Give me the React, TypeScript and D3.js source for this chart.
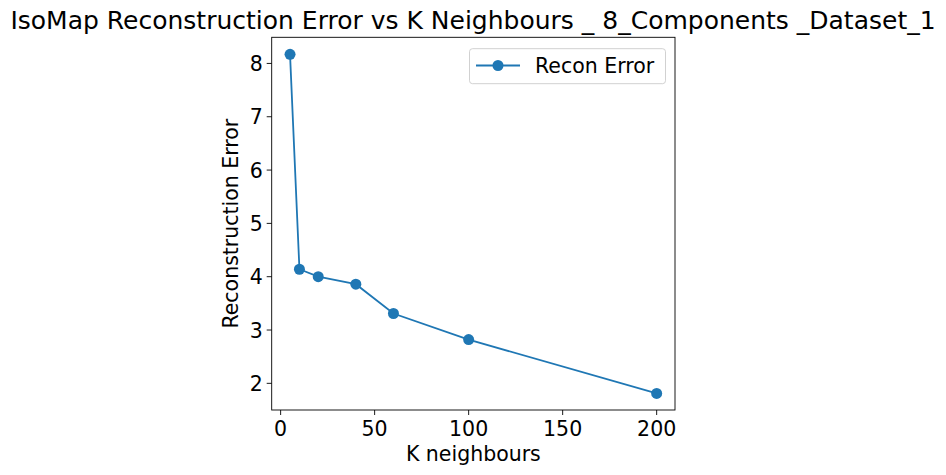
import * as d3 from 'd3';

const kValues = [5, 10, 20, 40, 60, 100, 200];
const reconError = [8.17, 4.14, 4.0, 3.86, 3.31, 2.82, 1.81];
const xTicks = [0, 50, 100, 150, 200];
const yTicks = [2, 3, 4, 5, 6, 7, 8];

const W = 946, H = 475;
const left = 271.7, right = 675, top = 37.3, bottom = 410;
const color = '#1f77b4';
const font = 'DejaVu Sans, sans-serif';

export default function App() {
  const x = d3.scaleLinear().domain([-4.75, 209.75]).range([left, right]);
  const y = d3.scaleLinear().domain([1.5, 8.49]).range([bottom, top]);
  const pts = kValues.map((k, i) => [k, reconError[i]] as [number, number]);
  const line = d3.line<[number, number]>().x(d => x(d[0])).y(d => y(d[1]));

  return (
    <svg width={W} height={H} style={{ position: 'absolute', left: 0, top: 0 }} fontFamily={font}>
      <rect width={W} height={H} fill="#fff" />
      <text x={473} y={29} textAnchor="middle" fontSize={25}>
        IsoMap Reconstruction Error vs K Neighbours _ 8_Components _Dataset_1
      </text>
      {xTicks.map(t => (
        <g key={t}>
          <line x1={x(t)} x2={x(t)} y1={bottom} y2={bottom + 5} stroke="#000" strokeWidth={0.9} />
          <text x={x(t)} y={bottom + 26} textAnchor="middle" fontSize={20.5}>{t}</text>
        </g>
      ))}
      {yTicks.map(t => (
        <g key={t}>
          <line x1={left - 5} x2={left} y1={y(t)} y2={y(t)} stroke="#000" strokeWidth={0.9} />
          <text x={left - 9} y={y(t) + 7.5} textAnchor="end" fontSize={20.5}>{t}</text>
        </g>
      ))}
      <text x={(left + right) / 2} y={461} textAnchor="middle" fontSize={20.5}>K neighbours</text>
      <text transform={`translate(238,${(top + bottom) / 2}) rotate(-90)`} textAnchor="middle" fontSize={20.5}>
        Reconstruction Error
      </text>
      <path d={line(pts) || ''} fill="none" stroke={color} strokeWidth={1.8} />
      {pts.map((p, i) => (
        <circle key={i} cx={x(p[0])} cy={y(p[1])} r={5.5} fill={color} />
      ))}
      <rect x={left} y={top} width={right - left} height={bottom - top} fill="none" stroke="#000" strokeWidth={0.9} />
      <g>
        <rect x={469.5} y={48.7} width={196} height={35} rx={3} fill="#fff" stroke="#ccc" strokeWidth={0.9} />
        <line x1={476} x2={520} y1={65.5} y2={65.5} stroke={color} strokeWidth={1.8} />
        <circle cx={498} cy={65.5} r={5.5} fill={color} />
        <text x={535} y={73} fontSize={20.5}>Recon Error</text>
      </g>
    </svg>
  );
}
